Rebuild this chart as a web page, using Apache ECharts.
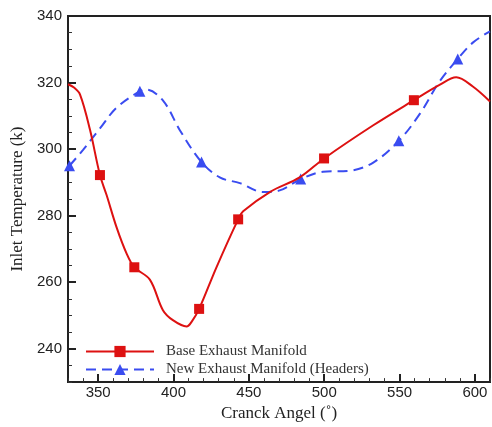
<!DOCTYPE html>
<html>
<head>
<meta charset="utf-8">
<script src="https://cdn.jsdelivr.net/npm/echarts@6/dist/echarts.min.js"></script>
<style>html,body{margin:0;padding:0;background:#fff;}#c{width:492px;height:427px;}</style>
</head>
<body>
<div id="c"></div>
<script>
// Base Exhaust Manifold (red, square markers)
var baseX = [330, 334, 338, 344.6, 351.2, 355.6, 362.3, 368.9, 374, 384.3, 393, 399.6, 408.7, 412, 417, 428.5, 442.9, 446.2, 463.9, 483.7, 499.9, 532.3, 559.5, 576.5, 587.6, 598.6, 610];
var baseY = [319.5, 318.5, 316.4, 305.8, 292.2, 286.2, 276.4, 268.6, 264.5, 260.8, 251.6, 248.6, 246.7, 248.1, 252, 264.5, 278.9, 281.3, 287.1, 291.5, 297.2, 307.1, 314.7, 319.3, 321.6, 318.8, 314.3];
var baseMark = [0, 0, 0, 0, 1, 0, 0, 0, 1, 0, 0, 0, 0, 0, 1, 0, 1, 0, 0, 0, 1, 0, 1, 0, 0, 0, 0];

// New Exhaust Manifold (Headers) (blue dashed, triangle markers)
var newX = [331, 340, 351.2, 362.3, 377.7, 382, 393.2, 404.2, 418.6, 430.7, 444, 459.4, 470.5, 484.4, 499.2, 516.9, 532.3, 549.5, 563.3, 576.5, 588.6, 598.6, 610];
var newY = [295, 299.8, 306.2, 312.5, 317.4, 317.9, 314.5, 305.7, 296.1, 291.5, 289.8, 287.1, 287.6, 291, 293.2, 293.5, 295.9, 302.5, 310.5, 320.3, 327.1, 332, 335.4];
var newMark = [1, 0, 0, 0, 1, 0, 0, 0, 1, 0, 0, 0, 0, 1, 0, 0, 0, 1, 0, 0, 1, 0, 0];

// Axis ranges and labelled (major) tick values
var xMin = 330, xMax = 610;
var yMin = 230, yMax = 340;
var xTicks = [350, 400, 450, 500, 550, 600];
var yTicks = [240, 260, 280, 300, 320, 340];

var seriesNames = ['Base Exhaust Manifold', 'New Exhaust Manifold (Headers)'];

function build(xs, ys, marks, sym) {
  return xs.map(function (x, i) {
    return { value: [x, ys[i]], symbol: marks[i] ? sym : 'none' };
  });
}

var chart = echarts.init(document.getElementById('c'));
var sans = 'Liberation Sans';
var serif = 'Liberation Serif';

function majorTick(dir) {
  return function (params, api) {
    var p = api.coord([api.value(0), api.value(1)]);
    var x = Math.round(p[0]), y = Math.round(p[1]);
    var shape = dir === 'x' ? { x1: x, y1: y, x2: x, y2: y - 8 } : { x1: x, y1: y, x2: x + 8, y2: y };
    return { type: 'line', shape: shape, style: { stroke: '#222', lineWidth: 2 }, silent: true };
  };
}

chart.setOption({
  animation: false,
  grid: { left: 68, right: 2, top: 16, bottom: 36, show: true, borderColor: '#222', borderWidth: 2, backgroundColor: 'transparent' },
  legend: {
    orient: 'vertical', left: 80, top: 339,
    itemWidth: 68, itemHeight: 14, itemGap: 3,
    data: seriesNames,
    textStyle: { fontFamily: serif, fontSize: 15, color: '#333', padding: [0, 0, 0, 7] }
  },
  xAxis: {
    type: 'value', min: xMin, max: xMax, interval: 10,
    name: 'Cranck Angel (˚)', nameLocation: 'middle', nameGap: 16,
    nameTextStyle: { fontFamily: serif, fontSize: 17, color: '#222' },
    axisLine: { onZero: false, lineStyle: { color: '#222', width: 2 } },
    axisTick: { inside: true, length: 4, lineStyle: { color: '#333', width: 1 } },
    axisLabel: { customValues: xTicks, margin: 3, fontFamily: sans, fontSize: 15, color: '#222' },
    splitLine: { show: false }
  },
  yAxis: {
    type: 'value', min: yMin, max: yMax, interval: 5,
    name: 'Inlet Temperature (k)', nameLocation: 'middle', nameGap: 41,
    nameTextStyle: { fontFamily: serif, fontSize: 17, color: '#222' },
    axisLine: { onZero: false, lineStyle: { color: '#222', width: 2 } },
    axisTick: { inside: true, length: 4, lineStyle: { color: '#333', width: 1 } },
    axisLabel: { customValues: yTicks, margin: 6, fontFamily: sans, fontSize: 15, color: '#222' },
    splitLine: { show: false }
  },
  series: [{
    name: seriesNames[0], type: 'line', smooth: 0.35,
    symbol: 'rect', symbolSize: 10, showAllSymbol: true,
    lineStyle: { color: '#dd1111', width: 2 },
    itemStyle: { color: '#dd1111' },
    data: build(baseX, baseY, baseMark, 'rect'),
    z: 3
  }, {
    name: seriesNames[1], type: 'line', smooth: 0.35,
    symbol: 'triangle', symbolSize: 11, showAllSymbol: true,
    lineStyle: { color: '#3a4cf0', width: 2, type: [10, 6] },
    itemStyle: { color: '#3a4cf0' },
    data: build(newX, newY, newMark, 'triangle'),
    z: 2
  }, {
    name: 'xMajorTicks', type: 'custom', silent: true, clip: false, z: 1,
    renderItem: majorTick('x'),
    data: xTicks.map(function (v) { return [v, yMin]; })
  }, {
    name: 'yMajorTicks', type: 'custom', silent: true, clip: false, z: 1,
    renderItem: majorTick('y'),
    data: yTicks.map(function (v) { return [xMin, v]; })
  }]
});
</script>
</body>
</html>
